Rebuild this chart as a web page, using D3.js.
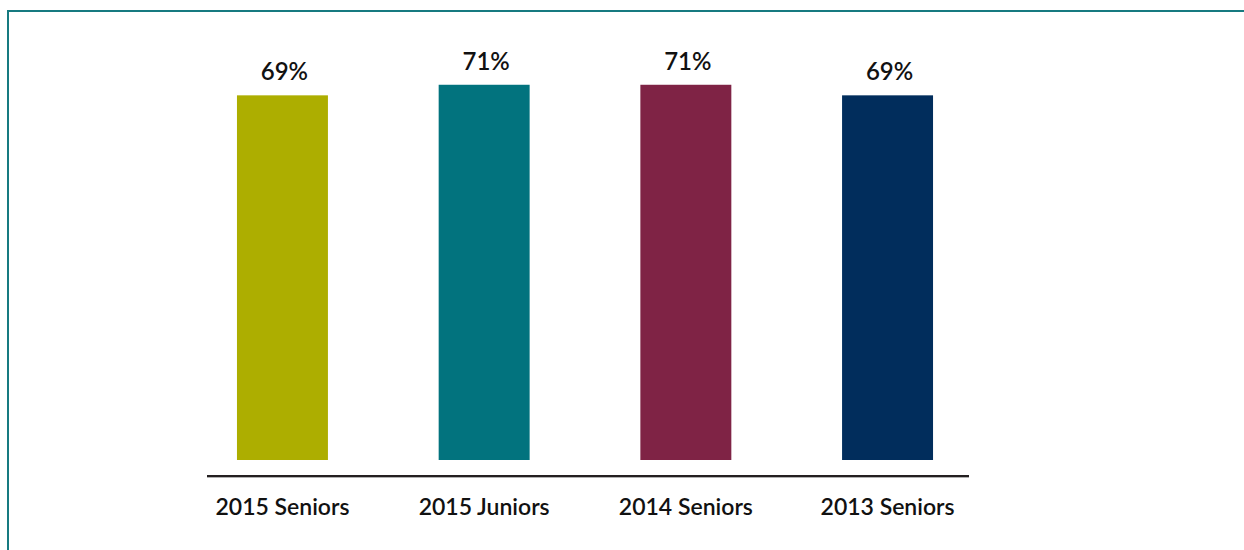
<!DOCTYPE html>
<html><head><meta charset="utf-8">
<script src="https://cdn.jsdelivr.net/npm/d3@7"></script>
<style>html,body{margin:0;padding:0;background:#fff;}svg{display:block;}</style>
</head><body>
<svg id="c" width="1244" height="550"></svg>
<script>
const categories = ["2015 Seniors", "2015 Juniors", "2014 Seniors", "2013 Seniors"];
const values = [69, 71, 71, 69];
const colors = ["#adae00", "#02737e", "#7f2345", "#012d5c"];
const valueLabels = ["69%", "71%", "71%", "69%"];

const svg = d3.select("#c");
// frame (top + left rule)
svg.append("line").attr("x1", 8).attr("x2", 1244).attr("y1", 11).attr("y2", 11)
  .attr("stroke", "#167a80").attr("stroke-width", 2);
svg.append("line").attr("x1", 8).attr("x2", 8).attr("y1", 10).attr("y2", 550)
  .attr("stroke", "#167a80").attr("stroke-width", 2);

const x = d3.scaleBand().domain(categories).range([181.6, 988.4])
  .paddingInner(0.549).paddingOuter(0.2745);
const y = d3.scaleLinear().domain([0, 100]).range([460, 460 - 528.5]);

svg.selectAll("rect.bar").data(values).join("rect").attr("class", "bar")
  .attr("x", (d, i) => x(categories[i]))
  .attr("width", x.bandwidth())
  .attr("y", d => y(d))
  .attr("height", d => y(0) - y(d))
  .attr("fill", (d, i) => colors[i]);

svg.selectAll("text.val").data(values).join("text").attr("class", "val")
  .attr("x", (d, i) => x(categories[i]) + x.bandwidth() / 2 + 2)
  .attr("y", d => y(d) - 15)
  .attr("text-anchor", "middle")
  .attr("font-family", "Lato, sans-serif").attr("font-weight", 600)
  .attr("font-size", 24).attr("fill", "#111")
  .text((d, i) => valueLabels[i]);

// axis baseline
svg.append("line").attr("x1", 207).attr("x2", 969).attr("y1", 477.5).attr("y2", 477.5)
  .attr("stroke", "#b0b0b0").attr("stroke-width", 1);
svg.append("line").attr("x1", 207).attr("x2", 969).attr("y1", 476).attr("y2", 476)
  .attr("stroke", "#231f20").attr("stroke-width", 2);

const axis = d3.axisBottom(x).tickSize(0).tickPadding(0);
const g = svg.append("g").attr("transform", "translate(0,476)").call(axis);
g.select(".domain").remove();
g.selectAll("text")
  .attr("dy", 0).attr("y", 39)
  .attr("font-family", "Lato, sans-serif").attr("font-weight", 600)
  .attr("font-size", 23).attr("fill", "#111");
</script>
</body></html>
